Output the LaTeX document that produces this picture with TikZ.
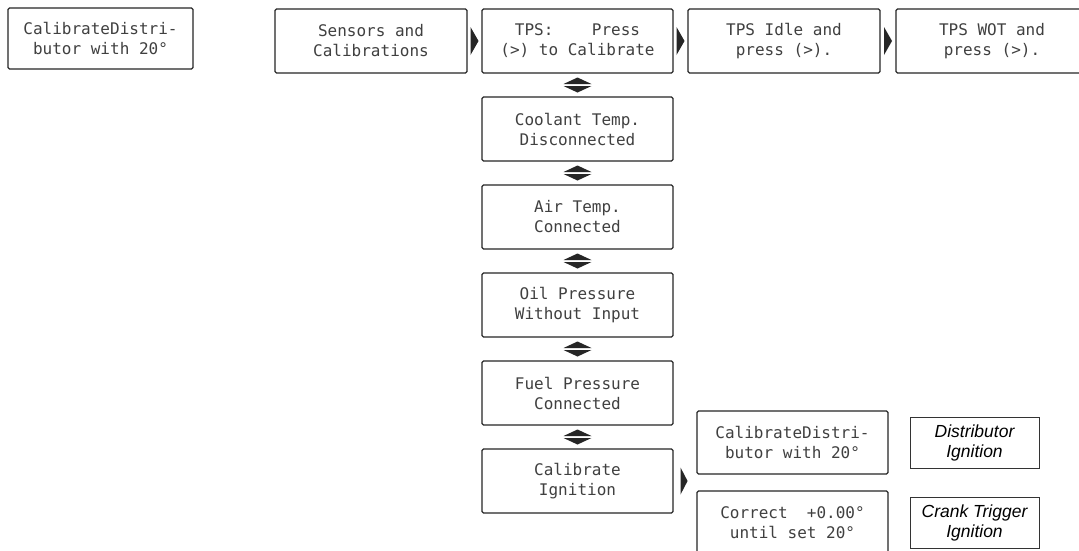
\documentclass[tikz,border=0pt]{standalone}
\usepackage{fontspec}
\newfontfamily\lcdfont{DejaVu Sans Mono}
\newfontfamily\labfont{Liberation Sans}
\usetikzlibrary{calc}
\tikzset{
  lcd/.style={draw=black!85, line width=1.1pt, rounded corners=1.5pt, fill=white,
    inner sep=0pt, minimum width=191pt, minimum height=64pt, align=center,
    text=black!75, font=\lcdfont\fontsize{16}{20}\selectfont},
  lab/.style={draw=black!80, line width=0.6pt, inner sep=0pt,
    minimum width=129pt, minimum height=51pt, align=center,
    font=\labfont\itshape\fontsize{17.5}{20}\selectfont},
  tri/.style={fill=black!85}
}
\begin{document}
\begin{tikzpicture}[x=1pt,y=-1pt]
\useasboundingbox (0,0) rectangle (1079,550);
\fill[white] (0,0) rectangle (1079,550);
\clip (0,0) rectangle (1079,550);
% top-left
\node[lcd, minimum width=185pt, minimum height=61pt] (cd0) at (100.5,38.5) {CalibrateDistri-\\butor with 20°};
% top row
\node[lcd, minimum width=192pt] (sens) at (371,41) {Sensors and\\Calibrations};
\node[lcd] (tps) at (577.5,41) {TPS:\ \ \ \ Press\\(>) to Calibrate};
\node[lcd, minimum width=192pt] (idle) at (784,41) {TPS Idle and\\press (>).};
\node[lcd, minimum width=192pt] (wot) at (992,41) {TPS WOT and\\press (>).};
% column
\node[lcd] (cool) at (577.5,129) {Coolant Temp.\\Disconnected};
\node[lcd] (air) at (577.5,217) {Air Temp.\\Connected};
\node[lcd] (oil) at (577.5,305) {Oil Pressure\\Without Input};
\node[lcd] (fuel) at (577.5,393) {Fuel Pressure\\Connected};
\node[lcd] (ign) at (577.5,481) {Calibrate\\Ignition};
% ignition sub-screens
\node[lcd, minimum height=63pt] (cdist) at (792.5,442.5) {CalibrateDistri-\\butor with 20°};
\node[lcd] (corr) at (792.5,523) {Correct\ \ +0.00°\\until set 20°};
\node[lab] (distlab) at (974.5,442.5) {Distributor\\Ignition};
\node[lab] (cranklab) at (974.5,522.5) {Crank Trigger\\Ignition};
% right-pointing markers
\foreach \a/\b in {sens/tps, tps/idle, idle/wot}{
  \fill[tri, shift={($(\a.east)!0.5!(\b.west)$)}] (-4,-14) -- (4,0) -- (-4,14) -- cycle;
}
\fill[tri, shift={($(ign.east)+(10.5,0)$)}] (-3.5,-13.5) -- (3.5,0) -- (-3.5,13.5) -- cycle;
% up/down markers
\foreach \a/\b in {tps/cool, cool/air, air/oil, oil/fuel, fuel/ign}{
  \fill[tri, shift={($(\a.south)!0.5!(\b.north)$)}] (-14,-1) -- (14,-1) -- (0,-7.5) -- cycle;
  \fill[tri, shift={($(\a.south)!0.5!(\b.north)$)}] (-14,1) -- (14,1) -- (0,7.5) -- cycle;
}
\end{tikzpicture}
\end{document}
